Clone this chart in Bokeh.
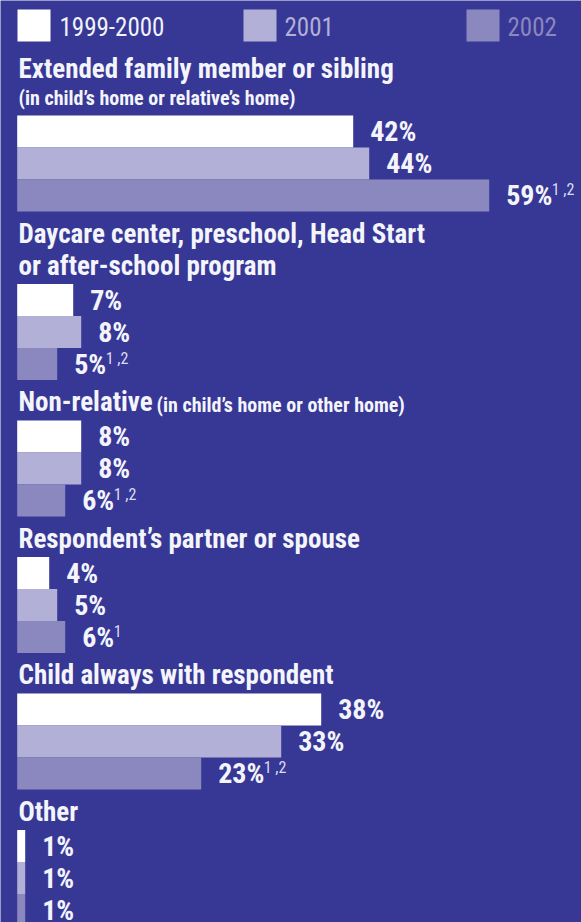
import re
from bokeh.plotting import figure
from bokeh.models import Range1d, ColumnDataSource
from bokeh.core.properties import value
from bokeh.embed import file_html
from bokeh.resources import INLINE

# ---------------- data ----------------
series_names = ["1999-2000", "2001", "2002"]
titles = [
    ["Extended family member or sibling"],
    ["Daycare center, preschool, Head Start", "or after-school program"],
    ["Non-relative"],
    ["Respondent\u2019s partner or spouse"],
    ["Child always with respondent"],
    ["Other"],
]
subtitles = ["(in child\u2019s home or relative\u2019s home)", "",
             "(in child\u2019s home or other home)", "", "", ""]
subtitle_inline = [False, False, True, False, False, False]
values_1999 = [42, 7, 8, 4, 38, 1]
values_2001 = [44, 8, 8, 5, 33, 1]
values_2002 = [59, 5, 6, 6, 23, 1]
notes_1999 = ["", "", "", "", "", ""]
notes_2001 = ["", "", "", "", "", ""]
notes_2002 = ["1 ,2", "1 ,2", "1 ,2", "1", "1 ,2", ""]

# ---------------- style ----------------
BG = "#373895"
COLORS = ["#ffffff", "#b3b0d7", "#8b87bf"]
LEGEND_TEXT = ["#f2f2fa", "#b3b0d7", "#8b87bf"]
TEXT = "#f4f4fb"
FONT = "Roboto Condensed"
W, H = 581, 922
PXU = 8.0            # pixels per percentage point
X0 = -16.7 / PXU     # left end of x range (in %)
BAR_H = 32
LABEL_PX = 28
HEAD_PX = 27
SUB_PX = 20

def px2x(px):
    return X0 + px / PXU

p = figure(width=W, height=H, x_range=Range1d(X0, X0 + W / PXU),
           y_range=Range1d(H, 0), output_backend="svg", toolbar_location=None,
           min_border=0, background_fill_color=BG, border_fill_color=BG,
           outline_line_color=None)
p.axis.visible = False
p.grid.visible = False

# ---------------- legend ----------------
leg_sq_px = [17, 243, 466]
leg_tx_px = [59, 284, 507]
p.quad(left=[px2x(v) for v in leg_sq_px], right=[px2x(v + 33) for v in leg_sq_px],
       top=[9] * 3, bottom=[41] * 3, fill_color=COLORS, line_color=None)
p.text(x=[px2x(v) for v in leg_tx_px], y=[35 - 9] * 3, text=series_names,
       text_color=LEGEND_TEXT, text_font=value(FONT), text_font_size="25px",
       text_baseline="middle", text_align="left")

# ---------------- layout of groups ----------------
head_x, head_y, head_t = [], [], []
sub_x, sub_y, sub_t = [], [], []
bar_y, bar_v, bar_c, bar_note = [], [], [], []
y = 41
all_vals = [values_1999, values_2001, values_2002]
all_notes = [notes_1999, notes_2001, notes_2002]
for g, lines in enumerate(titles):
    for i, line in enumerate(lines):
        y += 37 if (g == 0 and i == 0) else 32
        head_x.append(px2x(18)); head_y.append(y - 0.36 * HEAD_PX); head_t.append(line)
    gap = 8.5
    if subtitles[g]:
        if subtitle_inline[g]:
            sub_x.append(px2x(18 + len(lines[-1]) * 11.0 + 6))
        else:
            y += 27
            sub_x.append(px2x(18))
            gap = 10
        sub_y.append(y - 0.36 * SUB_PX)
        sub_t.append(subtitles[g])
    y += gap
    for s in range(3):
        bar_y.append(y + BAR_H / 2)
        bar_v.append(all_vals[s][g])
        bar_c.append(COLORS[s])
        bar_note.append(all_notes[s][g])
        y += BAR_H

p.text(x=head_x, y=head_y, text=head_t, text_color=TEXT, text_font=value(FONT),
       text_font_size="%dpx" % HEAD_PX, text_font_style="bold", text_baseline="middle")
p.text(x=sub_x, y=sub_y, text=sub_t, text_color=TEXT, text_font=value(FONT),
       text_font_size="%dpx" % SUB_PX, text_font_style="bold", text_baseline="middle")

labels = ["%d%%" % v for v in bar_v]
label_w = [(len(str(v)) * 0.50 + 0.70) * LABEL_PX for v in bar_v]
src = ColumnDataSource(dict(y=bar_y, v=bar_v, c=bar_c, label=labels,
                            note=bar_note, note_off=[17 + w - 2 for w in label_w],
                            ny=[b - 6 for b in bar_y]))
p.hbar(y="y", height=BAR_H, left=0, right="v", fill_color="c", line_color=None,
       source=src)
p.text(x="v", y="y", text="label", x_offset=17, source=src, text_color=TEXT,
       text_font=value(FONT), text_font_size="%dpx" % LABEL_PX, text_font_style="bold",
       text_baseline="middle", text_align="left")
p.text(x="v", y="ny", text="note", x_offset="note_off", source=src,
       text_color="#dcdcf0", text_font=value(FONT), text_font_size="16px",
       text_baseline="middle", text_align="left")

html = file_html(p, INLINE)
html = re.sub(r"<body([^>]*)>",
              r'<body\1 style="margin:0;overflow:hidden;background-color:%s;">' % BG,
              html, count=1)
open("out.html", "w").write(html)
